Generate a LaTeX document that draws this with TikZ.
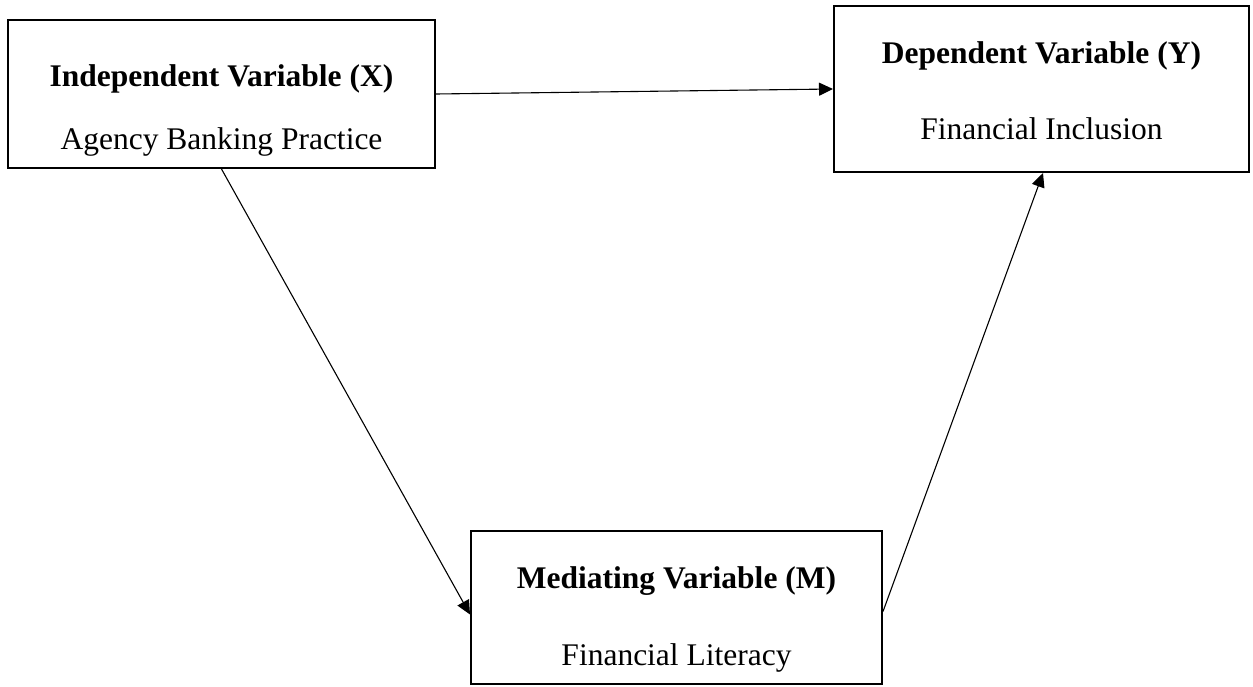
\documentclass[tikz,border=0pt]{standalone}
\usepackage{fontspec}
\setmainfont{Liberation Serif}
\usetikzlibrary{arrows.meta}
\begin{document}
\begin{tikzpicture}[x=1pt,y=-1pt,
  varbox/.style={draw=black,line width=2pt,fill=white,rectangle,inner sep=0pt},
  title/.style={font=\fontsize{31.5}{36}\selectfont\bfseries,anchor=base,inner sep=0pt},
  sub/.style={font=\fontsize{31.5}{36}\selectfont,anchor=base,inner sep=0pt},
  link/.style={line width=1.1pt,-{Triangle[length=14pt,width=13pt]}}]
\useasboundingbox (0,0) rectangle (1253,687);
% boxes
\node[varbox,minimum width=427pt,minimum height=148pt] (X) at (221.5,94) {};
\node[varbox,minimum width=415pt,minimum height=166pt] (Y) at (1041.5,89) {};
\node[varbox,minimum width=411pt,minimum height=153pt] (M) at (676.5,607.5) {};
% texts
\node[title] (Xt) at (221.5,87) {Independent Variable (X)};
\node[sub]   (Xs) at (221.5,150) {Agency Banking Practice};
\node[title] (Yt) at (1041.5,64) {Dependent Variable (Y)};
\node[sub]   (Ys) at (1041.5,140) {Financial Inclusion};
\node[title] (Mt) at (676.5,588) {Mediating Variable (M)};
\node[sub]   (Ms) at (676.5,665) {Financial Literacy};
% connectors
\coordinate (xm) at (X.south);
\coordinate (mx) at ([yshift=-7pt]M.west);
\coordinate (my) at ([yshift=-4pt]M.east);
\coordinate (ym) at ([xshift=1.5pt]Y.south);
\draw[link] (X.east) -- (Y.west);
\draw[link] (xm) -- (mx);
\draw[link] (my) -- (ym);
\end{tikzpicture}
\end{document}
